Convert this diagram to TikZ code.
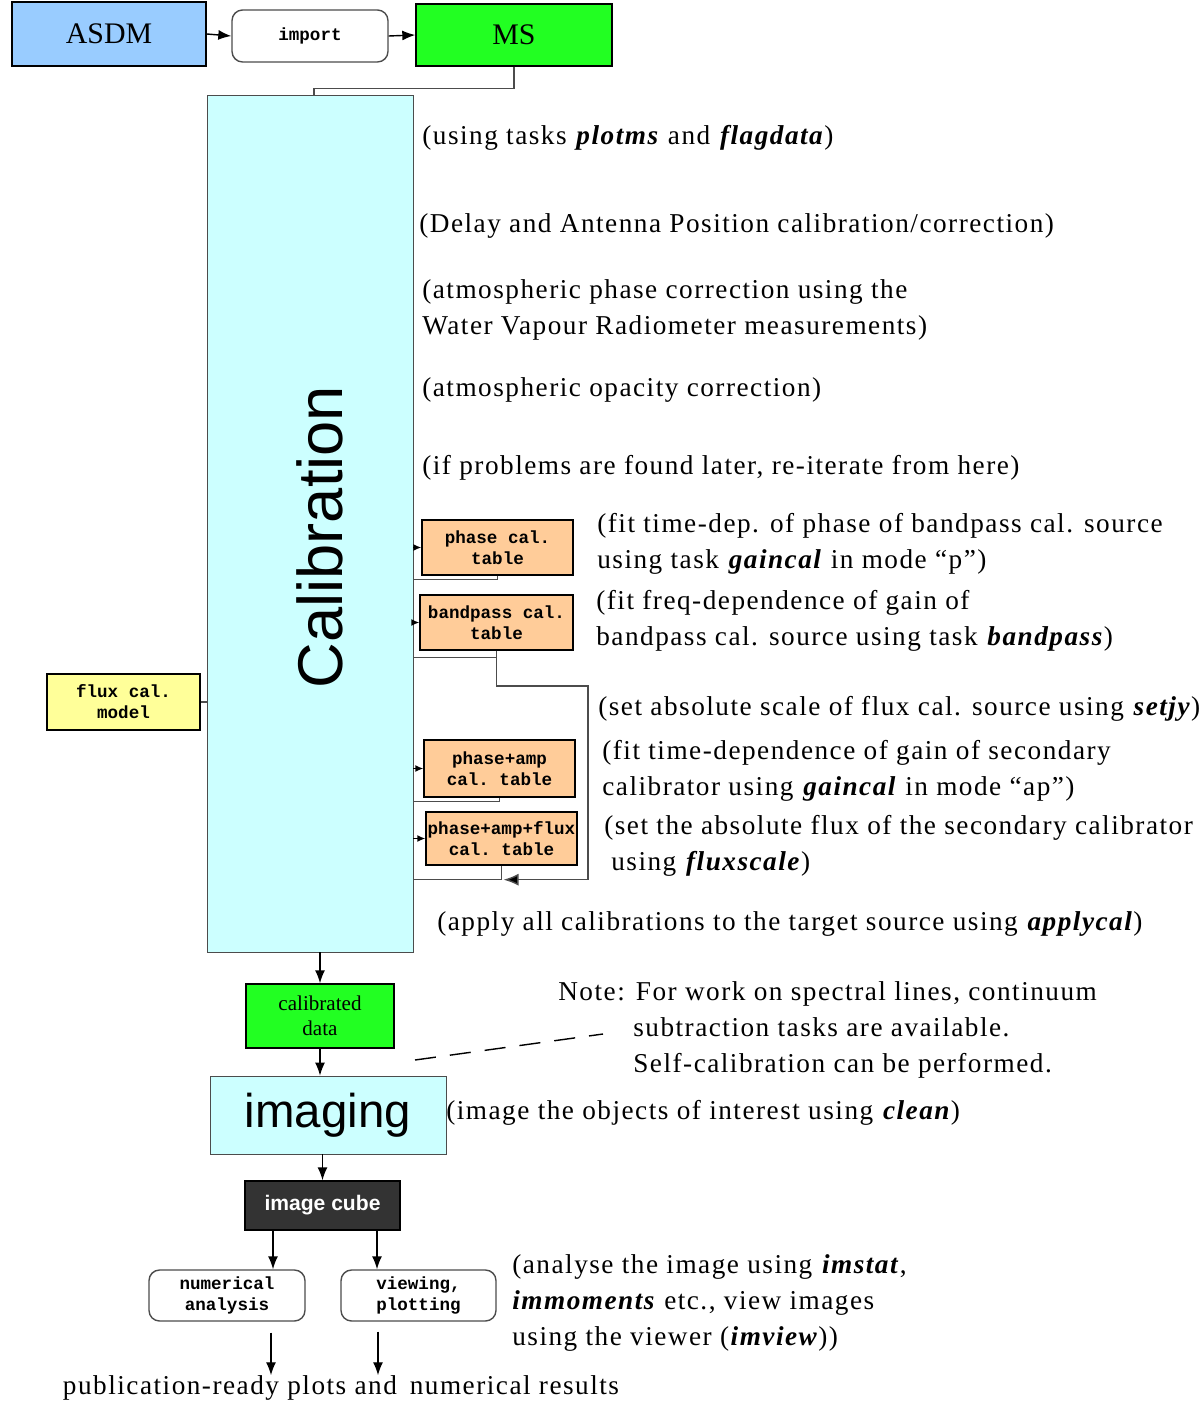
\documentclass[tikz,border=0pt]{standalone}
\usepackage{fontspec}
\setmainfont{Liberation Serif}
\setsansfont{Liberation Sans}
\setmonofont{Liberation Mono}
\newfontfamily\notefamily[LetterSpace=5.5]{Liberation Serif}
\usetikzlibrary{calc,arrows.meta}
\newcommand\notefont{\notefamily\fontsize{15.5}{20.5}\selectfont}
\newcommand\tabfont{\fontsize{10}{12}\selectfont\ttfamily\bfseries}
\newcommand\task[1]{\textbf{\textit{#1}}}
\definecolor{asdmblue}{HTML}{99CCFF}
\definecolor{msgreen}{HTML}{22FF22}
\definecolor{calcyan}{HTML}{CCFFFF}
\definecolor{taborange}{HTML}{FFCC99}
\definecolor{modyellow}{HTML}{FFFF99}
\definecolor{cubegray}{HTML}{333333}
\begin{document}
\begin{tikzpicture}[x=0.02cm, y=-0.02cm, >={Latex[length=0.26cm,width=0.2cm]},
  box/.style={draw, thick, inner sep=0, align=center},
  caltab/.style={box, fill=taborange, font=\tabfont},
  roundbox/.style={box, draw=black!70, rounded corners=6pt, fill=white, font=\tabfont},
  note/.style={anchor=west, align=left, inner sep=0, font=\notefont},
  ret/.style={black!70, thick},
  tabarrow/.style={thick, -{Latex[length=0.16cm,width=0.14cm]}}]
	\useasboundingbox (0,0) rectangle (1202,1405);

	% import chain
	\node[box, fill=asdmblue, minimum width=3.88cm, minimum height=1.28cm, font=\fontsize{17}{20}\selectfont] (asdm) at (109,34) {ASDM};
	\node[roundbox, minimum width=3.12cm, minimum height=1.04cm] (import) at (310,36) {import};
	\node[box, fill=msgreen, minimum width=3.92cm, minimum height=1.24cm, font=\fontsize{17}{20}\selectfont] (ms) at (514,35) {MS};
	\draw[thick] [->] (asdm.east) -- (import.west);
	\draw[thick] [->] (import.east) -- (ms.west);

	% Calibration
	\node[box, thin, draw=black!70, fill=calcyan, minimum width=4.12cm, minimum height=17.14cm] (calib) at (310,523.5) {};
	\node[rotate=90, font=\sffamily\fontsize{36}{40}\selectfont] (calibtxt) at (320,537) {Calibration};
	\draw[ret] (ms.south) -- ++(0,22) -| ([xshift=0.08cm]calib.north);

	% notes beside calibration
	\node[note] (n1) at (422,138) {(using tasks \task{plotms} and \task{flagdata})};
	\node[note] (n2) at (419,226) {(Delay and Antenna Position calibration/correction)};
	\node[note] (n3) at (422,310) {(atmospheric phase correction using the\\Water Vapour Radiometer measurements)};
	\node[note] (n4) at (422,390) {(atmospheric opacity correction)};
	\node[note] (n5) at (422,468) {(if problems are found later, re-iterate from here)};

	% calibration tables
	\node[caltab, minimum width=3.02cm, minimum height=1.1cm] (pcal) at (497.5,547.5) {phase cal.\\table};
	\node[caltab, minimum width=3.06cm, minimum height=1.1cm] (bpcal) at (496.5,622.5) {bandpass cal.\\table};
	\node[caltab, minimum width=3.02cm, minimum height=1.14cm] (pacal) at (499.5,768.5) {phase+amp\\cal. table};
	\node[caltab, minimum width=3.02cm, minimum height=1.06cm] (pafcal) at (501.5,838.5) {phase+amp+flux\\cal. table};
	\node[note] (n6) at (597,544) {(fit time-dep. of phase of bandpass cal. source\\using task \task{gaincal} in mode “p”)};
	\node[note] (n7) at (596,621) {(fit freq-dependence of gain of\\bandpass cal. source using task \task{bandpass})};
	\node[note] (n8) at (598,709) {(set absolute scale of flux cal. source using \task{setjy})};
	\node[note] (n9) at (602,771) {(fit time-dependence of gain of secondary\\calibrator using \task{gaincal} in mode “ap”)};
	\node[note] (n10) at (604,846) {(set the absolute flux of the secondary calibrator\\\hspace*{0.14cm}using \task{fluxscale})};
	\node[note] (n11) at (437,924) {(apply all calibrations to the target source using \task{applycal})};

	% arrows into the tables
	\foreach \tab in {pcal, bpcal, pacal, pafcal}
		\draw[tabarrow] (calib.east |- \tab.west) -- (\tab.west);

	% results back to calibration
	\draw[ret] (pcal.south) -- ++(0,4) coordinate (pret) -- (pret -| calib.east);
	\draw[ret] (bpcal.south) -- ++(0,7) coordinate (bpret) -- (bpret -| calib.east);
	\draw[ret] (pacal.south) -- ++(0,4) coordinate (paret) -- (paret -| calib.east);
	\draw[ret] (pafcal.south) -- ++(0,14) coordinate (pafret) -- (pafret -| calib.east);

	% flux scale loop
	\coordinate (loopr) at (588,686);
	\draw[ret, -{Latex[length=0.3cm,width=0.24cm,fill=black]}] (bpcal.south) |- (loopr) |- ([xshift=0.04cm]pafret);

	% flux cal. model
	\node[box, fill=modyellow, minimum width=3.06cm, minimum height=1.12cm, font=\tabfont] (fluxmod) at (123.5,702) {flux cal.\\model};
	\draw[ret] (fluxmod.east) -- (fluxmod.east -| calib.west);

	% calibrated data and imaging
	\node[box, fill=msgreen, minimum width=2.96cm, minimum height=1.28cm, font=\fontsize{12}{14}\selectfont] (caldata) at (320,1016) {calibrated\\data};
	\node[box, thin, draw=black!70, fill=calcyan, minimum width=4.72cm, minimum height=1.56cm, font=\sffamily\fontsize{27}{30}\selectfont] (imaging) at (328,1115) {imaging};
	\draw[thick] [->] (calib.south -| caldata.north) -- (caldata.north);
	\draw[thick] [->] (caldata.south) -- (caldata.south |- imaging.north);
	\node[note] (n12) at (446,1113) {(image the objects of interest using \task{clean})};

	% note on spectral lines
	\node[note] (note) at (558,1030) {Note: For work on spectral lines, continuum\\\hspace*{1.5cm}subtraction tasks are available.\\\hspace*{1.5cm}Self-calibration can be performed.};
	\coordinate (dashA) at (415,1060);
	\coordinate (dashB) at (603,1034);
	\draw[thick, dash pattern=on 12pt off 8pt] (dashA) -- (dashB);

	% image cube and products
	\node[box, fill=cubegray, text=white, minimum width=3.1cm, minimum height=0.98cm, font=\sffamily\bfseries\fontsize{12}{14}\selectfont] (cube) at (322.5,1205.5) {image cube};
	\draw[thick] [->] (imaging.south -| cube.north) -- (cube.north);
	\node[roundbox, minimum width=3.12cm, minimum height=1.02cm] (numan) at (227,1295.5) {numerical\\analysis};
	\node[roundbox, minimum width=3.1cm, minimum height=1.02cm] (viewplot) at (418.5,1295.5) {viewing,\\plotting};
	\draw[thick] [->] (cube.south -| 273,0) -- (numan.north -| 273,0);
	\draw[thick] [->] (cube.south -| 377,0) -- (viewplot.north -| 377,0);
	\node[note] (n13) at (512,1303) {(analyse the image using \task{imstat},\\\task{immoments} etc., view images\\using the viewer (\task{imview}))};

	% results
	\node[inner sep=0, font=\notefont] (results) at (341,1388) {publication-ready plots and\, numerical results};
	\draw[thick] [->] ([yshift=-0.22cm]numan.south -| 271,0) -- (results.north -| 271,0);
	\draw[thick] [->] ([yshift=-0.2cm]viewplot.south -| 378,0) -- (results.north -| 378,0);
\end{tikzpicture}
\end{document}
